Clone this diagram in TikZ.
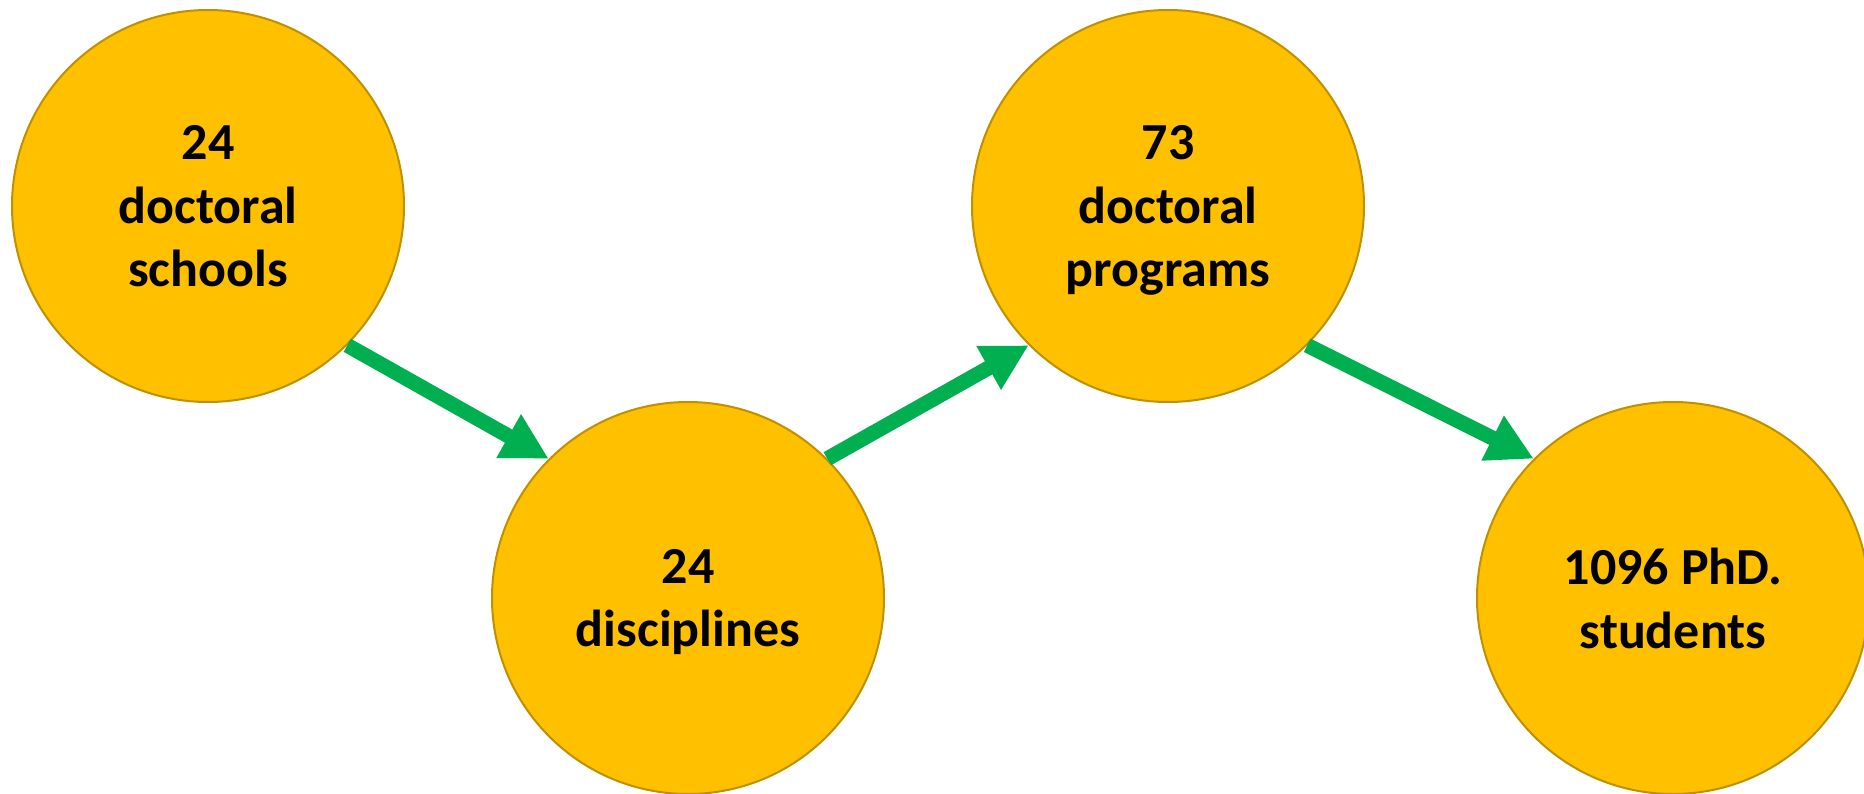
\documentclass[tikz,border=0pt]{standalone}
\usepackage{fontspec}
\setmainfont{Carlito}
\usepackage{tikz}
\usetikzlibrary{arrows.meta}
\definecolor{gold}{HTML}{FFC000}
\definecolor{darkgold}{HTML}{BF9000}
\definecolor{flowgreen}{HTML}{00B050}
\tikzset{ball/.style={circle, minimum size=392pt, inner sep=0pt, fill=gold, draw=darkgold,
		line width=2pt, align=center, text depth=0pt, font=\bfseries\fontsize{52}{63.5}\selectfont},
	flow/.style={draw=flowgreen, line width=15pt, -{Triangle[length=46pt,width=47pt]}}}

\begin{document}
\begin{tikzpicture}[x=1pt, y=-1pt]
	\useasboundingbox (0,0) rectangle (1864,793);
	\node[ball] (schools) at (208,206) {24\\doctoral\\schools};
	\node[ball] (disc) at (688,598) {24\\disciplines};
	\node[ball] (progs) at (1168,206) {73\\doctoral\\programs};
	\node[ball] (phd) at (1673,598) {1096 PhD.\\students};
	% connectors
	\draw[flow] (schools.-45) -- (disc.135);
	\draw[flow] (disc.45) -- (progs.-135);
	\draw[flow] (progs.-45) -- (phd.135);
\end{tikzpicture}
\end{document}
